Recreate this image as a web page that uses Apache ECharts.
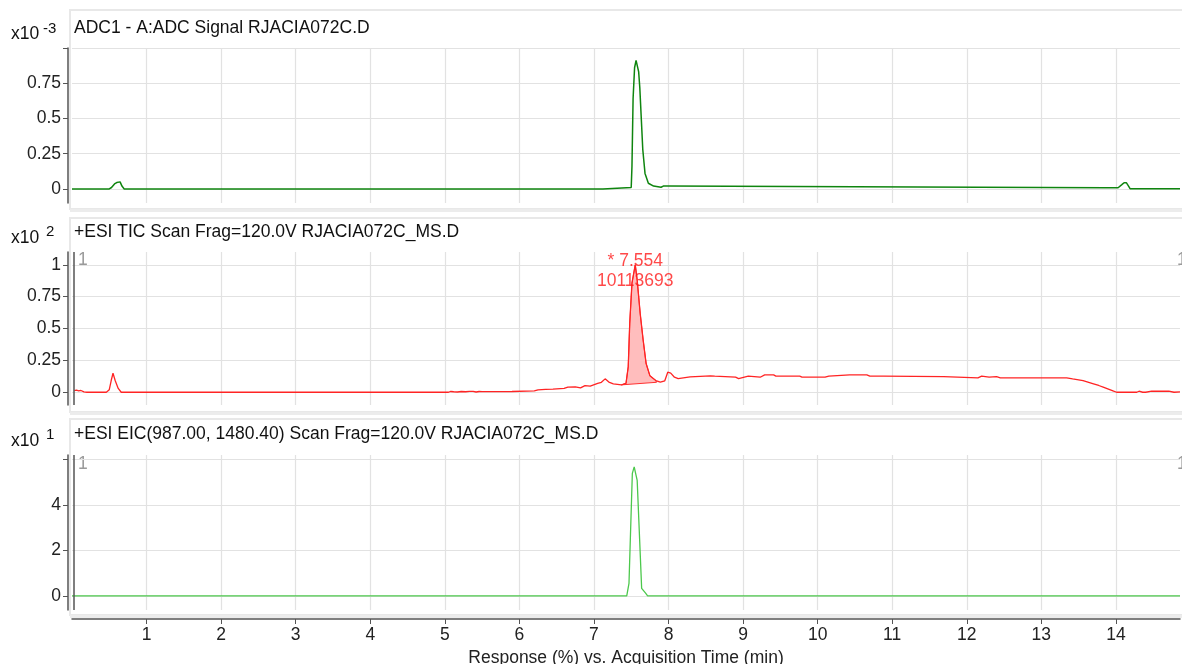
<!DOCTYPE html>
<html><head><meta charset="utf-8">
<script src="https://cdn.jsdelivr.net/npm/echarts@6/dist/echarts.min.js"></script>
<style>html,body{margin:0;padding:0;background:#fff}#c{width:1182px;height:664px}</style>
</head><body><div id="c"></div>
<script>
// ---------- data ----------
const panelTitles = [
  'ADC1 - A:ADC Signal RJACIA072C.D',
  '+ESI TIC Scan Frag=120.0V RJACIA072C_MS.D',
  '+ESI EIC(987.00, 1480.40) Scan Frag=120.0V RJACIA072C_MS.D'
];
const exponentLabels = ['-3', '2', '1'];
const xAxisName = 'Response (%) vs. Acquisition Time (min)';
const xTicks = [1,2,3,4,5,6,7,8,9,10,11,12,13,14];
const xRange = [0, 14.86];

const adcTicks = [0, 0.25, 0.5, 0.75, 1];
const adcLabels = [0, 0.25, 0.5, 0.75];
const adcRange = [-0.1, 1.0];
const ticTicks = [0, 0.25, 0.5, 0.75, 1];
const ticLabels = [0, 0.25, 0.5, 0.75, 1];
const ticRange = [-0.1, 1.1];
const eicTicks = [0, 2, 4, 6];
const eicLabels = [0, 2, 4];
const eicRange = [-0.62, 6.2];

const adcTime  = [0, 0.5, 0.53, 0.57, 0.6, 0.62, 0.645, 0.67, 0.7, 7.12, 7.13, 7.5, 7.51, 7.525, 7.545, 7.565, 7.59, 7.6, 7.615, 7.635, 7.655, 7.685, 7.73, 7.8, 7.9, 7.93, 7.98, 8.0, 13.86, 13.88, 13.92, 14.03, 14.08, 14.11, 14.14, 14.17, 14.19, 14.86];
const adcValue = [0, 0, 0.01, 0.035, 0.045, 0.051, 0.05, 0.02, 0, 0, 0.01, 0.01, 0.16, 0.64, 0.86, 0.912, 0.912, 0.83, 0.72, 0.5, 0.28, 0.11, 0.04, 0.02, 0.012, 0.02, 0.02, 0.008, 0.008, 0.004, 0.008, 0.008, 0.03, 0.044, 0.044, 0.02, 0.002, 0.002];

const ticTime  = [0.03, 0.06, 0.09, 0.12, 0.16, 0.2, 0.46, 0.5, 0.525, 0.55, 0.58, 0.62, 0.66, 5.05, 5.08, 5.12, 5.17, 5.22, 5.28, 5.33, 5.38, 5.42, 5.46, 5.5, 5.9, 6.2, 6.25, 6.35, 6.45, 6.6, 6.65, 6.75, 6.82, 6.88, 6.95, 7.05, 7.1, 7.15, 7.2, 7.26, 7.37, 7.43, 7.46, 7.48, 7.51, 7.554, 7.58, 7.62, 7.66, 7.7, 7.75, 7.83, 7.89, 7.95, 7.99, 8.03, 8.08, 8.13, 8.29, 8.56, 8.62, 8.9, 8.94, 9.07, 9.23, 9.29, 9.41, 9.44, 9.76, 9.79, 10.1, 10.15, 10.43, 10.66, 10.7, 10.88, 11.69, 12.15, 12.2, 12.3, 12.4, 12.45, 13.34, 13.42, 13.56, 13.7, 13.77, 13.83, 13.97, 14.01, 14.28, 14.31, 14.36, 14.4, 14.48, 14.71, 14.78, 14.86];
const ticValue = [0.012, 0.016, 0.01, 0.014, 0.003, 0, 0, 0.02, 0.09, 0.149, 0.09, 0.03, 0, 0, 0.006, 0.004, 0.002, 0.006, 0.004, 0.007, 0.007, 0.002, 0.006, 0.005, 0.006, 0.01, 0.018, 0.022, 0.024, 0.03, 0.04, 0.042, 0.034, 0.052, 0.048, 0.07, 0.078, 0.105, 0.08, 0.066, 0.058, 0.07, 0.2, 0.54, 0.855, 1.0, 0.88, 0.62, 0.41, 0.225, 0.13, 0.092, 0.08, 0.09, 0.157, 0.15, 0.118, 0.107, 0.12, 0.128, 0.126, 0.118, 0.107, 0.126, 0.118, 0.136, 0.136, 0.126, 0.126, 0.118, 0.118, 0.126, 0.136, 0.136, 0.126, 0.126, 0.123, 0.113, 0.126, 0.118, 0.123, 0.113, 0.113, 0.105, 0.092, 0.066, 0.053, 0.04, 0.008, 0, 0, 0.008, 0, 0, 0.008, 0.008, 0, 0.003];

// integrated peak region (curve points) and its drawn baseline
const areaTime  = [7.37, 7.43, 7.46, 7.48, 7.51, 7.554, 7.58, 7.62, 7.66, 7.7, 7.75, 7.83];
const areaValue = [0.058, 0.07, 0.2, 0.54, 0.855, 1.0, 0.88, 0.62, 0.41, 0.225, 0.13, 0.092];
const areaBaseTime  = [7.37, 7.84];
const areaBaseValue = [0.058, 0.078];
const peakRT = 7.554;
const peakHeight = 1.0;
const peakArea = '10113693';

const eicTime  = [0, 7.44, 7.47, 7.515, 7.54, 7.565, 7.58, 7.64, 7.66, 7.69, 7.72, 14.86];
const eicValue = [0, 0, 0.55, 5.39, 5.68, 5.3, 5.08, 0.33, 0.3, 0.13, 0, 0];

const markerTime = 0.03;

// ---------- chart ----------
const FONT = '"Liberation Sans", Arial, sans-serif';
const zip = (a, b) => a.map((v, i) => [v, b[i]]);
const chart = echarts.init(document.getElementById('c'), null, {renderer: 'canvas'});

const gridDefs = [
  {left: 72, right: 2, top: 48, height: 155},
  {left: 72, right: 2, top: 252, height: 153},
  {left: 72, right: 2, top: 455, height: 155}
];
const yDefs = [
  {range: adcRange, ticks: adcTicks, labels: adcLabels},
  {range: ticRange, ticks: ticTicks, labels: ticLabels},
  {range: eicRange, ticks: eicTicks, labels: eicLabels}
];

const grid = gridDefs.map(g => Object.assign({containLabel: false, outerBoundsMode: 'none'}, g));
const xAxis = gridDefs.map((g, i) => {
  const bottom = i === 2;
  return {
    type: 'value', gridIndex: i, min: xRange[0], max: xRange[1],
    offset: bottom ? 9 : 0,
    name: bottom ? xAxisName : '',
    nameLocation: 'middle', nameGap: 30,
    nameTextStyle: {fontSize: 17.5, color: '#222', fontFamily: FONT},
    axisLine: {show: bottom, onZero: false, lineStyle: {color: '#555', width: 1.5}},
    axisTick: {show: bottom, length: 5, customValues: xTicks, lineStyle: {color: '#555'}},
    axisLabel: {show: bottom, customValues: xTicks, fontSize: 17.5, color: '#222', margin: 7, fontFamily: FONT},
    splitLine: {show: true, lineStyle: {color: '#e2e2e2', width: 1.2}}
  };
});
const yAxis = yDefs.map((d, i) => ({
  type: 'value', gridIndex: i, min: d.range[0], max: d.range[1], offset: 4,
  axisLine: {show: true, onZero: false, lineStyle: {color: '#555', width: 1.5}},
  axisTick: {show: true, length: 5, customValues: d.ticks, lineStyle: {color: '#555'}},
  axisLabel: {customValues: d.labels, fontSize: 17.5, color: '#222', margin: 7, fontFamily: FONT},
  splitLine: {show: true, lineStyle: {color: '#e2e2e2', width: 1.2}}
}));

const markerLine = {
  silent: true, symbol: 'none', animation: false,
  label: {show: false},
  lineStyle: {color: '#555', width: 1.5, type: 'solid'},
  data: [{xAxis: markerTime}]
};

const series = [
  {
    type: 'line', xAxisIndex: 0, yAxisIndex: 0, data: zip(adcTime, adcValue),
    showSymbol: false, symbol: 'none', lineStyle: {color: '#0f850f', width: 1.5}, z: 3
  },
  {
    type: 'custom', xAxisIndex: 1, yAxisIndex: 1, data: [[peakRT, peakHeight]], z: 2,
    renderItem: (params, api) => {
      const pts = areaTime.map((t, i) => api.coord([t, areaValue[i]]));
      pts.push(api.coord([areaBaseTime[1], areaBaseValue[1]]));
      pts.push(api.coord([areaBaseTime[0], areaBaseValue[0]]));
      return {type: 'polygon', shape: {points: pts},
        style: {fill: '#ffbdbd', stroke: '#ff3030', lineWidth: 1}};
    }
  },
  {
    type: 'line', xAxisIndex: 1, yAxisIndex: 1, data: zip(ticTime, ticValue),
    showSymbol: false, symbol: 'none', lineStyle: {color: '#ff2424', width: 1.3}, z: 3,
    markLine: markerLine
  },
  {
    type: 'scatter', xAxisIndex: 1, yAxisIndex: 1, data: [[peakRT, peakHeight]],
    symbolSize: 0, z: 5, silent: true,
    label: {show: true, position: 'inside', offset: [0, 6], color: '#ff1a1a',
      fontSize: 17.5, lineHeight: 20, fontFamily: FONT,
      formatter: () => '* ' + peakRT.toFixed(3) + '\n' + peakArea}
  },
  {
    type: 'line', xAxisIndex: 2, yAxisIndex: 2, data: zip(eicTime, eicValue),
    showSymbol: false, symbol: 'none', lineStyle: {color: '#4cc84c', width: 1.3}, z: 3,
    markLine: markerLine
  }
];

// panel frames and texts
const frames = [
  {y: 10, h: 199}, {y: 218, h: 194}, {y: 419, h: 196}
];
const titleY = [28, 232, 434];
const expY = [34, 238, 441];
const supY = [29, 232, 435];
const graphic = [];
frames.forEach((f, i) => {
  graphic.push({type: 'rect', silent: true, z: -10, shape: {x: 70, y: f.y, width: 1130, height: f.h},
    style: {fill: null, stroke: '#e8e8e8', lineWidth: 2}});
  graphic.push({type: 'rect', silent: true, z: -10, shape: {x: 70, y: f.y + f.h, width: 1130, height: 3},
    style: {fill: '#ececec'}});
  graphic.push({type: 'text', silent: true, x: 74, y: titleY[i],
    style: {text: panelTitles[i], fontSize: 17.5, fill: '#111', fontFamily: FONT, verticalAlign: 'middle'}});
  graphic.push({type: 'text', silent: true, x: 11, y: expY[i],
    style: {text: 'x10', fontSize: 17.5, fill: '#111', fontFamily: FONT, verticalAlign: 'middle'}});
  graphic.push({type: 'text', silent: true, x: i === 0 ? 43 : 46, y: supY[i],
    style: {text: exponentLabels[i], fontSize: 15, fill: '#111', fontFamily: FONT, verticalAlign: 'middle'}});
});
[[260, 2], [464, 3]].forEach(([y]) => {
  graphic.push({type: 'text', silent: true, x: 78, y: y,
    style: {text: '1', fontSize: 17.5, fill: '#9a9a9a', fontFamily: FONT, verticalAlign: 'middle'}});
  graphic.push({type: 'text', silent: true, x: 1177, y: y,
    style: {text: '1', fontSize: 17.5, fill: '#9a9a9a', fontFamily: FONT, verticalAlign: 'middle'}});
});

chart.setOption({
  animation: false,
  backgroundColor: '#ffffff',
  textStyle: {fontFamily: FONT},
  grid, xAxis, yAxis, series, graphic
});
</script>
</body></html>
